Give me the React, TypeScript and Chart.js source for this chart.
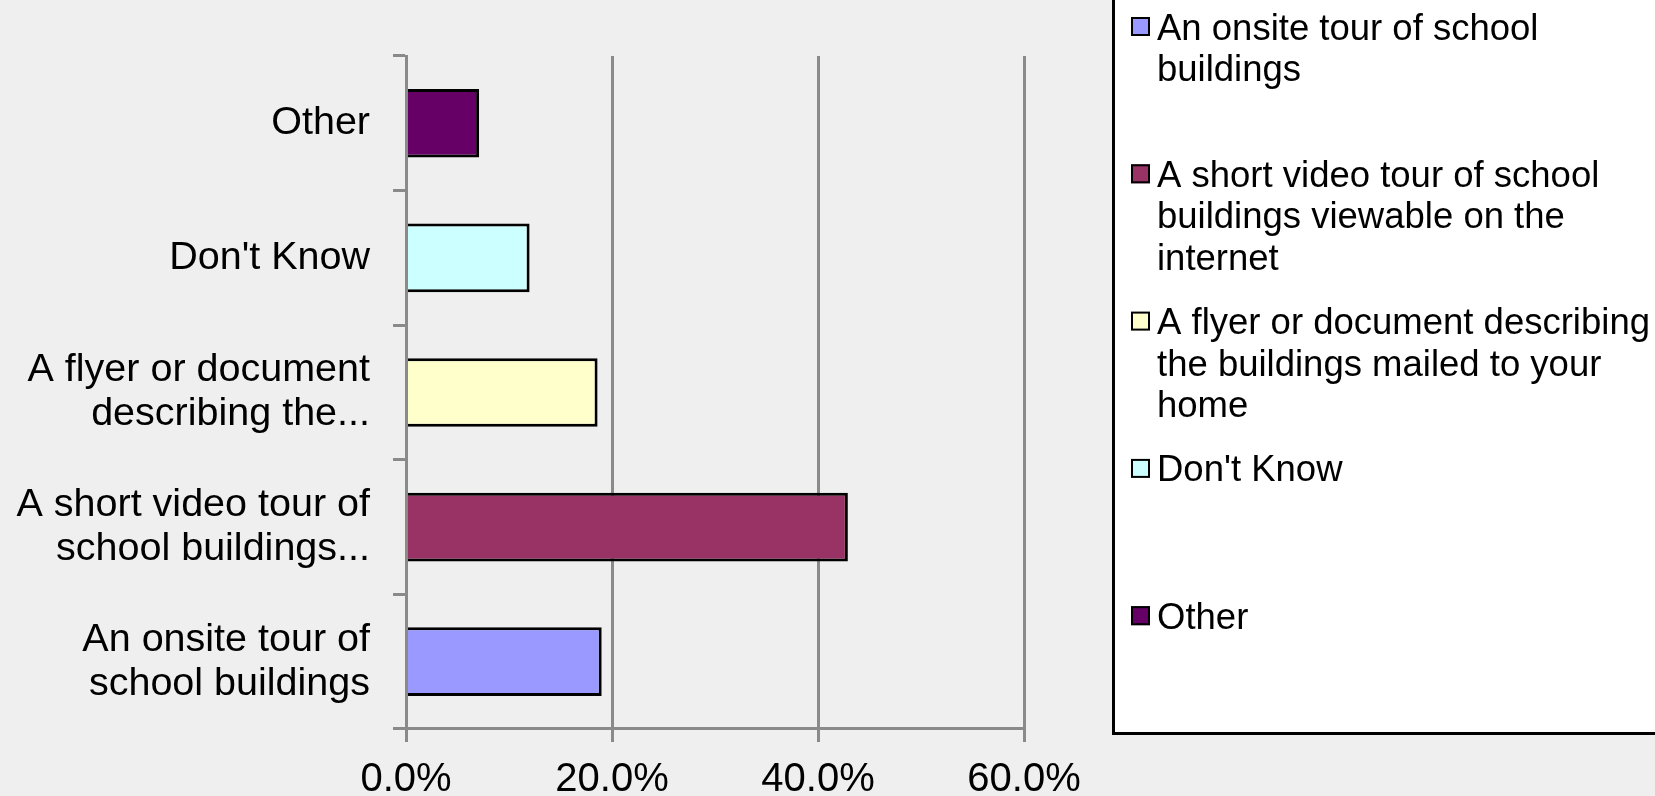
import React, { useEffect, useRef } from "react";
import { Chart, registerables } from "chart.js";

Chart.register(...registerables);

// ---- data ----
const categories: string[] = [
  "An onsite tour of school buildings",
  "A short video tour of school buildings viewable on the internet",
  "A flyer or document describing the buildings mailed to your home",
  "Don't Know",
  "Other",
];

const axisLabels: (string | string[])[] = [
  ["An onsite tour of", "school buildings"],
  ["A short video tour of", "school buildings..."],
  ["A flyer or document", "describing the..."],
  "Don't Know",
  "Other",
];

const values: number[] = [19.0, 42.9, 18.6, 12.0, 7.1];

const barColors: string[] = ["#9999FF", "#993366", "#FFFFCC", "#CCFFFF", "#660066"];

const legendLines: string[][] = [
  ["An onsite tour of school", "buildings"],
  ["A short video tour of school", "buildings viewable on the", "internet"],
  ["A flyer or document describing", "the buildings mailed to your", "home"],
  ["Don't Know"],
  ["Other"],
];

const xMin = 0;
const xMax = 60;
const xStep = 20;

const FONT = "'Liberation Sans', Arial, sans-serif";
const GRID = "#8a8a8a";

const boxLegend = {
  id: "boxLegend",
  afterDraw(chart: any) {
    const ctx: CanvasRenderingContext2D = chart.ctx;
    ctx.save();
    ctx.fillStyle = "#ffffff";
    ctx.fillRect(1113, -10, 700, 743.5);
    ctx.strokeStyle = "#000000";
    ctx.lineWidth = 3;
    ctx.strokeRect(1113.5, -10, 700, 743.5);

    ctx.font = `36.5px ${FONT}`;
    ctx.textAlign = "left";
    ctx.textBaseline = "alphabetic";
    const colors = chart.data.datasets[0].backgroundColor as string[];
    legendLines.forEach((lines, i) => {
      const base = 39.5 + i * 147.3;
      const my = base - 13;
      ctx.fillStyle = colors[i];
      ctx.fillRect(1131, my - 9.5, 19, 19);
      ctx.strokeStyle = "#000000";
      ctx.lineWidth = 2;
      ctx.strokeRect(1132, my - 8.5, 17, 17);
      ctx.fillStyle = "#000000";
      lines.forEach((t, j) => {
        ctx.fillText(t, 1157, base + j * 41.5);
      });
    });
    ctx.restore();
  },
};

export default function App() {
  const ref = useRef<HTMLCanvasElement | null>(null);

  useEffect(() => {
    if (!ref.current) return;
    const chart = new Chart(ref.current, {
      type: "bar",
      data: {
        labels: axisLabels as any,
        datasets: [
          {
            label: "Responses",
            data: values,
            backgroundColor: barColors,
            borderColor: "#000000",
            borderWidth: 3,
            borderSkipped: "start",
            barPercentage: 0.51,
            categoryPercentage: 1.0,
          },
        ],
      },
      options: {
        indexAxis: "y",
        responsive: false,
        animation: false,
        devicePixelRatio: 1,
        layout: { padding: { top: 56, right: 631, left: 0, bottom: 0 } },
        plugins: {
          legend: { display: false },
          tooltip: { enabled: false },
          title: { display: false },
        },
        scales: {
          x: {
            type: "linear",
            min: xMin,
            max: xMax,
            ticks: {
              stepSize: xStep,
              color: "#000000",
              font: { family: FONT, size: 40, lineHeight: 1.2 },
              padding: 14,
              callback: (v: any) => Number(v).toFixed(1) + "%",
            },
            grid: {
              color: GRID,
              lineWidth: 3,
              drawTicks: true,
              tickLength: 13,
              tickColor: GRID,
              tickWidth: 3,
            },
            border: { display: true, color: GRID, width: 3 },
            afterFit: (scale: any) => {
              scale.height = 63;
            },
          },
          y: {
            type: "category",
            reverse: true,
            offset: true,
            ticks: {
              color: "#000000",
              font: { family: FONT, size: 39.5, lineHeight: 1.114 },
              padding: 23,
              autoSkip: false,
            },
            grid: {
              display: true,
              drawOnChartArea: false,
              drawTicks: true,
              tickLength: 13,
              tickColor: GRID,
              tickWidth: 3,
              offset: true,
              color: GRID,
            },
            border: { display: true, color: GRID, width: 3, z: 1 },
            afterFit: (scale: any) => {
              scale.width = 406;
            },
          },
        },
      },
      plugins: [boxLegend],
    } as any);
    return () => chart.destroy();
  }, []);

  return (
    <div style={{ position: "fixed", left: 0, top: 0, width: 1655, height: 796, background: "#efefef" }}>
      <canvas
        ref={ref}
        width={1655}
        height={796}
        style={{ display: "block", width: 1655, height: 796, background: "#efefef" }}
      />
    </div>
  );
}
